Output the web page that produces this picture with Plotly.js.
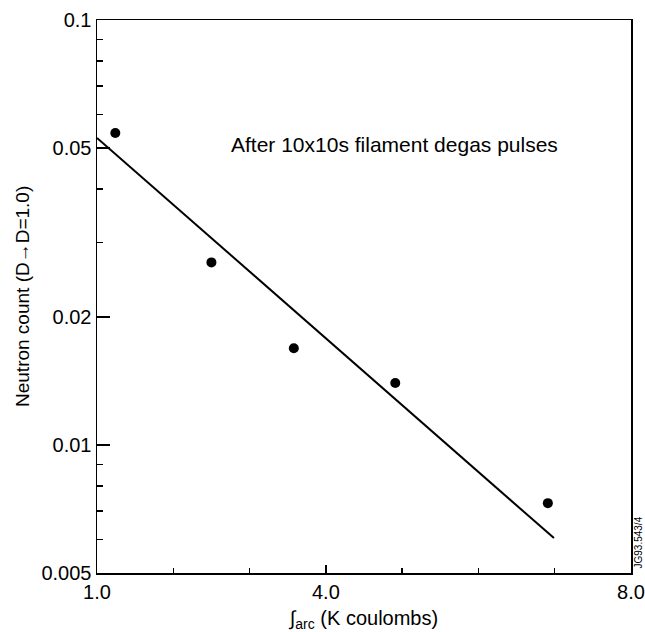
<!DOCTYPE html>
<html>
<head>
<meta charset="utf-8">
<script src="https://cdn.plot.ly/plotly-3.0.1.min.js"></script>
<style>html,body{margin:0;padding:0;background:#fff;}#chart{width:645px;height:632px;}</style>
</head>
<body>
<div id="chart"></div>
<script>
// Measured data points
const arcCharge = [1.24, 2.50, 3.58, 4.91, 6.91];
const neutronCount = [0.0542, 0.0269, 0.0169, 0.0140, 0.0073];
// Fitted line end points
const fitX = [1.0, 6.99];
const fitY = [0.0528, 0.00604];
// Tick labels
const xTickVals = [1, 4, 8];
const xTickText = ['1.0', '4.0', '8.0'];
const xMinorVals = [2, 3, 5, 6, 7];
const yTickVals = [0.005, 0.01, 0.02, 0.05, 0.1];
const yTickText = ['0.005', '0.01', '0.02', '0.05', '0.1'];
const yMinorVals = [0.006, 0.007, 0.008, 0.009, 0.03, 0.04, 0.06, 0.07, 0.08, 0.09];

const font = 'Liberation Sans, Arial, Helvetica, sans-serif';

const traces = [
  {x: fitX, y: fitY, mode: 'lines', type: 'scatter',
   line: {color: '#000', width: 2}, hoverinfo: 'skip'},
  {x: arcCharge, y: neutronCount, mode: 'markers', type: 'scatter',
   marker: {color: '#000', size: 10}}
];

const layout = {
  width: 645, height: 632,
  margin: {l: 97, r: 14, t: 20, b: 59},
  paper_bgcolor: '#fff', plot_bgcolor: '#fff',
  showlegend: false,
  font: {family: font, color: '#000', size: 20},
  xaxis: {
    range: [1, 8], tickmode: 'array', tickvals: xTickVals, ticktext: xTickText,
    ticks: 'inside', ticklen: 8, tickwidth: 1.5, tickcolor: '#000',
    showline: true, linecolor: '#000', linewidth: 1.5, mirror: true,
    showgrid: false, zeroline: false,
    tickfont: {size: 20, family: font},
    minor: {tickmode: 'array', tickvals: xMinorVals, ticks: 'inside', ticklen: 5, tickwidth: 1.5, tickcolor: '#000', showgrid: false},
    title: {text: '\u222B<sub>arc</sub> (K coulombs)', font: {size: 20, family: font}},
    automargin: false
  },
  yaxis: {
    type: 'log', range: [Math.log10(0.005), Math.log10(0.1)],
    tickmode: 'array', tickvals: yTickVals, ticktext: yTickText,
    ticks: 'inside', ticklen: 13, tickwidth: 1.5, tickcolor: '#000',
    showline: true, linecolor: '#000', linewidth: 1.5, mirror: true,
    showgrid: false, zeroline: false,
    tickfont: {size: 20, family: font},
    minor: {tickmode: 'array', tickvals: yMinorVals, ticks: 'inside', ticklen: 6, tickwidth: 1.5, tickcolor: '#000', showgrid: false},
    automargin: false
  },
  annotations: [
    {text: 'Neutron count (D\u2192D=1.0)', xref: 'paper', yref: 'paper',
     x: (22 - 97) / 534, y: (573 - 297) / 553, xanchor: 'center', yanchor: 'middle',
     textangle: -90, showarrow: false, font: {size: 19, family: font}},
    {text: 'After 10x10s filament degas pulses', xref: 'paper', yref: 'paper',
     x: (394 - 97) / 534, y: (573 - 145) / 553, xanchor: 'center', yanchor: 'middle',
     showarrow: false, font: {size: 21, family: font}},
    {text: 'JG93.543/4', xref: 'paper', yref: 'paper', x: 1, y: 0.0, xanchor: 'left', yanchor: 'bottom',
     xshift: -1, yshift: 2, textangle: -90, showarrow: false, font: {size: 10, family: font}}
  ]
};

Plotly.newPlot('chart', traces, layout, {displayModeBar: false, staticPlot: true});
</script>
</body>
</html>
